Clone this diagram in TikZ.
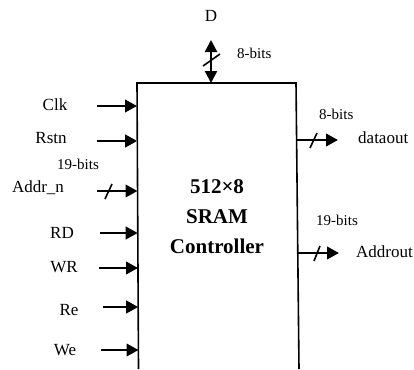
\documentclass[tikz,border=0pt]{standalone}
\usepackage{fontspec}
\setmainfont{Liberation Serif}
\usetikzlibrary{arrows.meta}
\begin{document}
\begin{tikzpicture}[x=1pt,y=-1pt,
  lbl/.style={anchor=base,inner sep=0pt,font=\fontsize{17}{17}\selectfont},
  bits/.style={anchor=base west,inner sep=0pt,font=\fontsize{15}{15}\selectfont},
  ttl/.style={anchor=base,inner sep=0pt,font=\bfseries\fontsize{21}{21}\selectfont},
  sig/.style={line width=2.4pt,-{Triangle[length=12pt,width=12.5pt]}},
  bus/.style={line width=2.4pt,{Triangle[length=12pt,width=12pt]}-{Triangle[length=12pt,width=12pt]}},
  slash/.style={line width=1.6pt},
  boxline/.style={line width=1.6pt}]
\useasboundingbox (0,0) rectangle (414,369);
% block outline (open at the bottom)
\coordinate (tl) at (137,83);
\coordinate (tr) at (296,83);
\coordinate (bl) at (138.5,369);
\coordinate (br) at (299,369);
\draw[boxline] (bl) -- (tl) -- (tr) -- (br);
% title
\node[ttl] (t1) at (217,193) {512×8};
\node[ttl] (t2) at (217,223) {SRAM};
\node[ttl] (t3) at (217,253) {Controller};
% data bus D
\node[lbl] (d) at (211,22) {D};
\coordinate (dtop) at (211,40);
\coordinate (dbot) at (211,83);
\draw[bus] (dtop) -- (dbot);
\coordinate (ds1) at (203,66);
\coordinate (ds2) at (220,54);
\draw[slash] (ds1) -- (ds2);
\node[bits] (dbits) at (237,58) {8-bits};
% left inputs
\node[lbl] (clk) at (55,110) {Clk};
\coordinate (clks) at (97,106);
\coordinate (clke) at (137,106);
\draw[sig] (clks) -- (clke);
\node[lbl] (rstn) at (51,143) {Rstn};
\coordinate (rstns) at (97,141);
\coordinate (rstne) at (137.2,141);
\draw[sig] (rstns) -- (rstne);
\node[bits,anchor=base] (abits) at (78,169) {19-bits};
\node[lbl] (addr) at (38,192) {Addr\_n};
\coordinate (addrs) at (97,191);
\coordinate (addre) at (137.5,191);
\draw[sig] (addrs) -- (addre);
\coordinate (as1) at (105,199);
\coordinate (as2) at (112,184);
\draw[slash] (as1) -- (as2);
\node[lbl] (rd) at (62,238) {RD};
\coordinate (rds) at (100,233);
\coordinate (rde) at (137.7,233);
\draw[sig] (rds) -- (rde);
\node[lbl] (wr) at (64,272) {WR};
\coordinate (wrs) at (99,268);
\coordinate (wre) at (138,268);
\draw[sig] (wrs) -- (wre);
\node[lbl] (re) at (69,315) {Re};
\coordinate (res) at (103,307);
\coordinate (ree) at (138.2,307);
\draw[sig] (res) -- (ree);
\node[lbl] (we) at (65,355) {We};
\coordinate (wes) at (101,350);
\coordinate (wee) at (138.5,350);
\draw[sig] (wes) -- (wee);
% right outputs
\node[bits] (obits) at (319,119) {8-bits};
\coordinate (dos) at (297,140);
\coordinate (doe) at (338,140);
\draw[sig] (dos) -- (doe);
\coordinate (os1) at (310,148);
\coordinate (os2) at (317,133);
\draw[slash] (os1) -- (os2);
\node[lbl,anchor=base west] (dout) at (358,143) {dataout};
\node[bits] (abits2) at (316,225) {19-bits};
\coordinate (aos) at (298,253);
\coordinate (aoe) at (339,253);
\draw[sig] (aos) -- (aoe);
\coordinate (os3) at (314,261);
\coordinate (os4) at (320,246);
\draw[slash] (os3) -- (os4);
\node[lbl,anchor=base west] (aout) at (356,257) {Addrout};
\end{tikzpicture}
\end{document}
